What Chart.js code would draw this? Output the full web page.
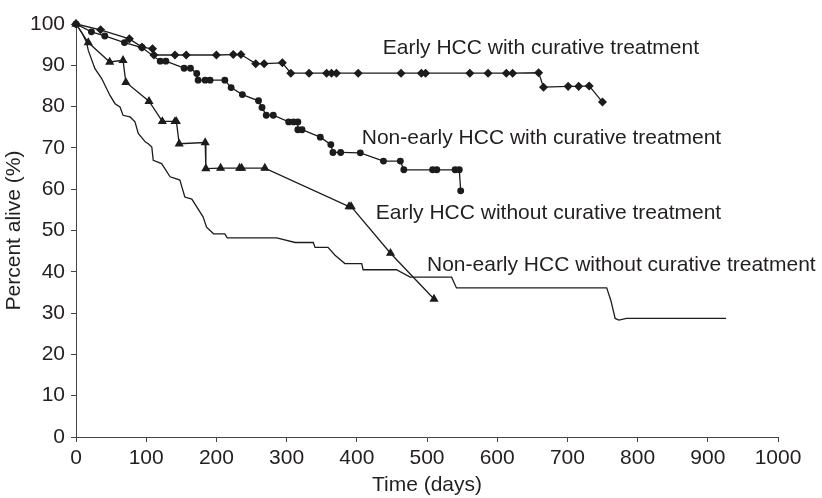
<!DOCTYPE html>
<html>
<head>
<meta charset="utf-8">
<script src="https://cdn.jsdelivr.net/npm/chart.js@4.4.0/dist/chart.umd.min.js"></script>
<style>
  html, body { margin: 0; padding: 0; background: #fff; }
</style>
</head>
<body>
<canvas id="chart-survival" width="822" height="498"></canvas>
<script>
// survival curves (days, % alive)
var earlyCurDays = [0, 35, 76, 94, 109, 111, 141, 157, 200, 224, 235, 256, 268, 294, 306, 332, 357, 364, 371, 402, 463, 492, 498, 561, 587, 613, 622, 659, 666, 701, 716, 731, 750];
var earlyCurPct  = [100, 98.6, 96.4, 94.4, 94.0, 92.5, 92.5, 92.5, 92.5, 92.6, 92.6, 90.4, 90.4, 90.6, 88.1, 88.1, 88.1, 88.1, 88.1, 88.1, 88.1, 88.1, 88.1, 88.1, 88.1, 88.1, 88.1, 88.2, 84.7, 84.9, 84.9, 85.0, 81.1];

var nonEarlyCurDays = [0, 22, 41, 69, 94, 120, 128, 154, 163, 172, 174, 184, 191, 212, 221, 237, 260, 265, 271, 281, 303, 310, 316, 316, 322, 348, 363, 366, 377, 405, 438, 462, 467, 508, 514, 540, 546, 548];
var nonEarlyCurPct  = [100, 98.1, 97.1, 95.5, 94.3, 91, 91, 89.3, 89.3, 88, 86.4, 86.4, 86.4, 86.4, 84.6, 82.9, 81.4, 79.8, 77.9, 77.9, 76.3, 76.3, 76.3, 74.4, 74.4, 72.6, 70.8, 68.9, 68.9, 68.8, 66.8, 66.8, 64.7, 64.7, 64.7, 64.7, 64.7, 59.6];

var earlyNoCurDays = [0, 17.5, 48, 67, 71, 104, 123, 141, 143, 147, 184, 185, 206, 233, 236, 269, 389, 392, 448, 510];
var earlyNoCurPct  = [100, 95.5, 90.8, 91.2, 85.9, 81.3, 76.4, 76.4, 76.4, 71, 71.3, 65, 65.1, 65.1, 65.1, 65.1, 55.8, 55.8, 44.5, 33.4];

var nonEarlyNoCurDays = [0, 8, 15, 17.5, 27, 36.6, 48.4, 55.6, 62.7, 67, 77, 84, 88.7, 99, 103, 108, 110, 122, 134, 141, 148, 153, 155, 165, 172, 181, 186, 196, 212, 215.5, 286, 312, 338, 340.5, 359, 369, 383, 407, 409, 456.5, 476, 535, 542, 604, 756, 762, 768, 773.5, 784, 926];
var nonEarlyNoCurPct  = [100, 98, 95.6, 93.6, 89.2, 86.8, 82.7, 80.7, 79.9, 77.9, 77.5, 76.3, 73.5, 71.4, 71, 70.2, 67, 66.2, 63, 62.6, 62.2, 59.3, 58.1, 57.6, 55.7, 53.3, 50.8, 49.2, 49.2, 48.2, 48.2, 47.1, 47.1, 45.9, 45.9, 44, 42, 42, 40.5, 40.5, 38.7, 38.7, 36.1, 36.1, 36.1, 33, 28.7, 28.3, 28.7, 28.7];

// curve labels and where they sit (days, % at text baseline)
var noteTexts = ['Early HCC with curative treatment', 'Non-early HCC with curative treatment', 'Early HCC without curative treatment', 'Non-early HCC without curative treatment'];
var noteDays  = [437, 407, 427, 500];
var notePct   = [92.7, 71.0, 52.7, 40.2];

var xTitle = 'Time (days)';
var yTitle = 'Percent alive (%)';

function pts(xs, ys) {
    return xs.map(function (x, i) { return {x: x, y: ys[i]}; });
}

var ink = '#231f20';
Chart.defaults.font.family = '"Liberation Sans", Arial, sans-serif';
Chart.defaults.font.size = 21;
Chart.defaults.color = ink;

const curveNotes = {
    id: 'curveNotes',
    afterDatasetsDraw(chart) {
        const ctx = chart.ctx;
        const xs = chart.scales.x, ys = chart.scales.y;
        ctx.save();
        ctx.font = '21px "Liberation Sans", Arial, sans-serif';
        ctx.fillStyle = ink;
        ctx.textAlign = 'left';
        ctx.textBaseline = 'alphabetic';
        for (let i = 0; i < noteTexts.length; i++) {
            ctx.fillText(noteTexts[i], xs.getPixelForValue(noteDays[i]), ys.getPixelForValue(notePct[i]));
        }
        ctx.restore();
    }
};

function series(label, xs, ys, style, radius) {
    return {
        label: label,
        data: pts(xs, ys),
        showLine: true,
        borderColor: '#1c1c1c',
        backgroundColor: '#1c1c1c',
        borderWidth: 1.3,
        pointStyle: style,
        pointRadius: radius,
        pointHoverRadius: radius,
        tension: 0,
        clip: false
    };
}

const ctx = document.getElementById('chart-survival').getContext('2d');
const survivalChart = new Chart(ctx, {
    type: 'scatter',
    data: {
        datasets: [
            series(noteTexts[0], earlyCurDays, earlyCurPct, 'rectRot', 3.6),
            series(noteTexts[1], nonEarlyCurDays, nonEarlyCurPct, 'circle', 2.8),
            series(noteTexts[2], earlyNoCurDays, earlyNoCurPct, 'triangle', 4),
            series(noteTexts[3], nonEarlyNoCurDays, nonEarlyNoCurPct, false, 0)
        ]
    },
    options: {
        responsive: false,
        animation: false,
        events: [],
        layout: {
            padding: {top: 24, right: 44, left: 0, bottom: 0}
        },
        plugins: {
            legend: {display: false},
            tooltip: {enabled: false}
        },
        scales: {
            x: {
                type: 'linear',
                min: 0,
                max: 1000,
                ticks: {stepSize: 100, padding: 4, maxRotation: 0, color: ink,
                        callback: function (v) { return String(v); }},
                grid: {drawOnChartArea: false, drawTicks: true, tickLength: 5, color: '#444'},
                border: {display: true, color: '#444', width: 1},
                title: {display: true, text: xTitle, color: ink, padding: {top: 0, bottom: 0}},
                afterFit: function (scale) { scale.height = 61; }
            },
            y: {
                type: 'linear',
                min: 0,
                max: 100,
                ticks: {stepSize: 10, padding: 6, color: ink,
                        callback: function (v) { return String(v); }},
                grid: {drawOnChartArea: false, drawTicks: true, tickLength: 5, color: '#444'},
                border: {display: true, color: '#444', width: 1},
                title: {display: true, text: yTitle, color: ink, padding: {top: 2, bottom: 0}},
                afterFit: function (scale) { scale.width = 76; }
            }
        }
    },
    plugins: [curveNotes]
});
</script>
</body>
</html>
